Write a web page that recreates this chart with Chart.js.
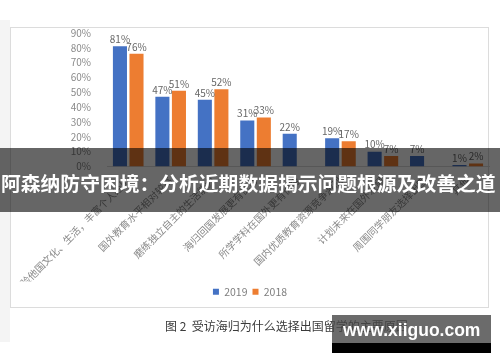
<!DOCTYPE html>
<html>
<head>
<meta charset="utf-8">
<script src="https://cdn.jsdelivr.net/npm/chart.js@4"></script>
<style>
  body{ margin:0; }
  .page{ position:relative; width:500px; height:362px; overflow:hidden; background:#fff;
         font-family:"Noto Sans CJK SC","Noto Sans",sans-serif; }
  .side{ position:absolute; left:0; top:20px; width:10px; height:322px; background:#f4f4f4; }
  .frame{ position:absolute; left:10px; top:27px; width:477px; height:279px; border:1px solid #dcdcdc; }
  #chart{ position:absolute; left:0; top:0; }
  .caption{ position:absolute; left:165px; top:317px; font-size:12px; line-height:17px; color:#3a3a3a; white-space:nowrap; }
  .banner{ position:absolute; left:0; top:148px; width:500px; height:64px; background:rgba(0,0,0,0.6);
           color:#fff; font-weight:bold; font-size:19.8px; line-height:64px; white-space:nowrap; padding-left:1px; padding-top:3px; box-sizing:border-box; }
  .wm{ position:absolute; left:332px; top:315px; width:159px; height:38px; background:rgba(70,70,70,0.8); }
  .wm .strip{ position:absolute; left:0; bottom:0; width:100%; height:10px; background:#000; }
  .wm span{ position:absolute; left:11px; top:5px; color:#fff; font:bold 17.5px "Liberation Sans",Arial,sans-serif; }
</style>
</head>
<body>
<div class="page">
  <div class="side"></div>
  <div class="frame"></div>
  <canvas id="chart" width="500" height="362"></canvas>
  <div class="caption">图 2&nbsp;&nbsp;受访海归为什么选择出国留学的主要原因</div>
  <div class="banner">阿森纳防守困境：分析近期数据揭示问题根源及改善之道</div>
  <div class="wm"><div class="strip"></div><span>www.xiiguo.com</span></div>
</div>
<script>
const categories = [
  '体验他国文化、生活，丰富个人经历',
  '国外教育水平相对较高',
  '磨练独立自主的生活能力',
  '海归回国发展更有优势',
  '所学学科在国外更有优势',
  '国内优质教育资源竞争激烈',
  '计划未来在国外发展',
  '周围同学朋友选择出国',
  '其他'
];
const values2019 = [81, 47, 45, 31, 22, 19, 10, 7, 1];
const values2018 = [76, 51, 52, 33, null, 17, 7, null, 2];
const seriesNames = ['2019', '2018'];
const yMax = 90;
const yStep = 10;

const blue = '#4472c4';
const orange = '#ed7d31';

Chart.defaults.font.family = '"Noto Sans CJK SC","Noto Sans",sans-serif';

// value labels above each bar
const barLabels = {
  id: 'barLabels',
  afterDatasetsDraw(chart){
    const ctx = chart.ctx;
    ctx.save();
    ctx.font = '10px "Noto Sans CJK SC", sans-serif';
    ctx.fillStyle = '#666';
    ctx.textAlign = 'center';
    ctx.textBaseline = 'bottom';
    chart.data.datasets.forEach((ds, i) => {
      const meta = chart.getDatasetMeta(i);
      meta.data.forEach((bar, j) => {
        const v = ds.data[j];
        if(v === null || v === undefined) return;
        ctx.fillText(v + '%', bar.x, bar.y - 2);
      });
    });
    ctx.restore();
  }
};

new Chart(document.getElementById('chart').getContext('2d'), {
  type: 'bar',
  data: {
    labels: categories,
    datasets: [
      { label: seriesNames[0], data: values2019, backgroundColor: blue, borderWidth: 0,
        barPercentage: 0.85, categoryPercentage: 0.78 },
      { label: seriesNames[1], data: values2018, backgroundColor: orange, borderWidth: 0,
        barPercentage: 0.85, categoryPercentage: 0.78 }
    ]
  },
  options: {
    responsive: false,
    animation: false,
    layout: { padding: { left: 11, right: 11, top: 33, bottom: 55 } },
    scales: {
      x: {
        grid: { display: false },
        border: { display: true, color: '#d9d9d9' },
        ticks: { color: '#8a8a8a', font: { size: 10 }, minRotation: 45, maxRotation: 45, autoSkip: false, padding: 0 },
        afterFit(s){ s.height = 115; }
      },
      y: {
        min: 0, max: yMax,
        grid: { display: false },
        border: { display: false },
        ticks: { stepSize: yStep, autoSkip: false, color: '#8a8a8a', font: { size: 10 }, padding: 8,
                 callback: v => v + '%' },
        afterFit(s){ s.width = 96; }
      }
    },
    plugins: {
      legend: {
        position: 'bottom',
        labels: { boxWidth: 6, boxHeight: 6, padding: 5, color: '#7f7f7f', font: { size: 10.5 } }
      },
      tooltip: { enabled: false }
    }
  },
  plugins: [barLabels]
});
</script>
</body>
</html>
